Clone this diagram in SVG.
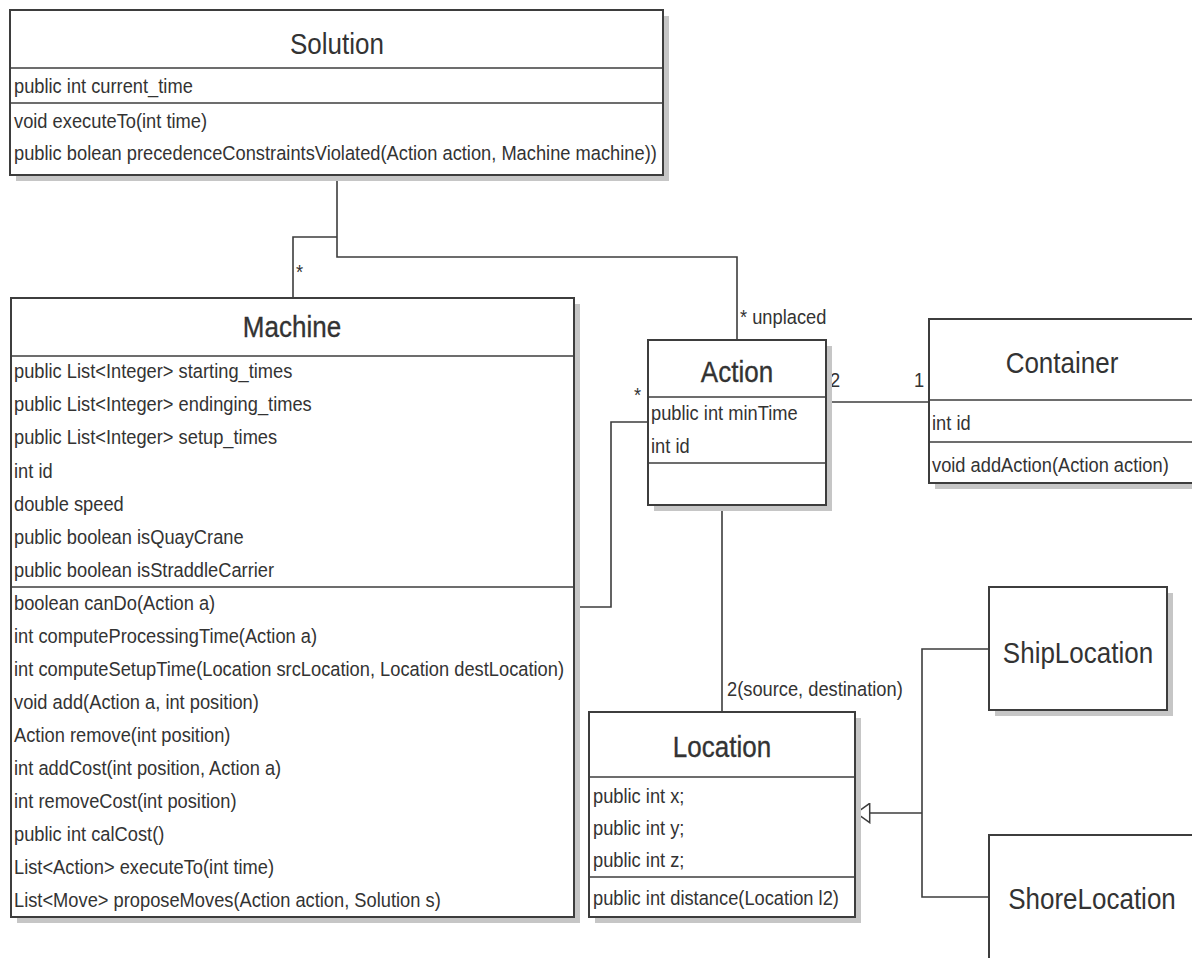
<svg xmlns="http://www.w3.org/2000/svg" width="1192" height="958" viewBox="0 0 1192 958">
  <defs>
    <style>
      .shadow { fill: #c6c6c6; }
      .box { fill: #ffffff; stroke: #3d3d3d; stroke-width: 2; }
      .sep { stroke: #3d3d3d; stroke-width: 1.6; }
      .edge { fill: none; stroke: #3d3d3d; stroke-width: 1.6; }
      text { font-family: "Liberation Sans", Arial, sans-serif; fill: #333333;
             transform-box: fill-box; transform-origin: 0 100%; transform: scaleY(1.12); }
      .title { font-size: 26px; text-anchor: middle; }
      .heavy { stroke: #333333; stroke-width: 0.3; }
      .mem { font-size: 18.3px; }
    </style>
    <marker id="inherit" viewBox="0 0 15 21" refX="14.5" refY="10.5" markerWidth="15" markerHeight="21" markerUnits="userSpaceOnUse" orient="auto">
      <path d="M0.8,0.8 L14.2,10.5 L0.8,20.2 Z" fill="#ffffff" stroke="#3d3d3d" stroke-width="1.5"/>
    </marker>
  </defs>

  <rect width="1192" height="958" fill="#ffffff"/>

  <!-- associations and generalization -->
  <g id="connectors">
    <path class="edge" d="M337,175 V257 H737 V340"/>
    <path class="edge" d="M337,237 H293 V298"/>
    <path class="edge" d="M574,607 H611 V422 H648"/>
    <path class="edge" d="M826,402 H929"/>
    <path class="edge" d="M722,505 V712"/>
    <path class="edge" d="M989,649 H922 V897 H989"/>
    <path class="edge" d="M922,813 H856" marker-end="url(#inherit)"/>
    <text class="mem" x="296" y="279">*</text>
    <text class="mem" x="740" y="324">* unplaced</text>
    <text class="mem" x="634" y="402">*</text>
    <text class="mem" x="830" y="387">2</text>
    <text class="mem" x="914" y="387">1</text>
    <text class="mem" x="727" y="696">2(source, destination)</text>
  </g>

  <g id="Solution">
    <rect class="shadow" x="16" y="16" width="653" height="165"/>
    <rect class="box" x="10" y="10" width="653" height="165"/>
    <line class="sep" x1="10" y1="68" x2="663" y2="68"/>
    <line class="sep" x1="10" y1="103" x2="663" y2="103"/>
    <text class="title" x="337" y="55">Solution</text>
    <text class="mem" x="14" y="94">public int current_time</text>
    <text class="mem" x="14" y="128">void executeTo(int time)</text>
    <text class="mem" x="14" y="160">public bolean precedenceConstraintsViolated(Action action, Machine machine))</text>
  </g>

  <g id="Machine">
    <rect class="shadow" x="17" y="304" width="563" height="619"/>
    <rect class="box" x="11" y="298" width="563" height="619"/>
    <line class="sep" x1="11" y1="356" x2="574" y2="356"/>
    <line class="sep" x1="11" y1="587" x2="574" y2="587"/>
    <text class="title heavy" x="292" y="338">Machine</text>
    <text class="mem" x="14" y="379">public List&lt;Integer&gt; starting_times</text>
    <text class="mem" x="14" y="412">public List&lt;Integer&gt; endinging_times</text>
    <text class="mem" x="14" y="445">public List&lt;Integer&gt; setup_times</text>
    <text class="mem" x="14" y="478">int id</text>
    <text class="mem" x="14" y="511">double speed</text>
    <text class="mem" x="14" y="544">public boolean isQuayCrane</text>
    <text class="mem" x="14" y="577">public boolean isStraddleCarrier</text>
    <text class="mem" x="14" y="610">boolean canDo(Action a)</text>
    <text class="mem" x="14" y="643">int computeProcessingTime(Action a)</text>
    <text class="mem" x="14" y="676">int computeSetupTime(Location srcLocation, Location destLocation)</text>
    <text class="mem" x="14" y="709">void add(Action a, int position)</text>
    <text class="mem" x="14" y="742">Action remove(int position)</text>
    <text class="mem" x="14" y="775">int addCost(int position, Action a)</text>
    <text class="mem" x="14" y="808">int removeCost(int position)</text>
    <text class="mem" x="14" y="841">public int calCost()</text>
    <text class="mem" x="14" y="874">List&lt;Action&gt; executeTo(int time)</text>
    <text class="mem" x="14" y="907">List&lt;Move&gt; proposeMoves(Action action, Solution s)</text>
  </g>

  <g id="Action">
    <rect class="shadow" x="654" y="346" width="178" height="165"/>
    <rect class="box" x="648" y="340" width="178" height="165"/>
    <line class="sep" x1="648" y1="397" x2="826" y2="397"/>
    <line class="sep" x1="648" y1="463" x2="826" y2="463"/>
    <text class="title heavy" x="737" y="383">Action</text>
    <text class="mem" x="651" y="420">public int minTime</text>
    <text class="mem" x="651" y="453">int id</text>
  </g>

  <g id="Container">
    <rect class="shadow" x="935" y="325" width="268" height="164"/>
    <rect class="box" x="929" y="319" width="268" height="164"/>
    <line class="sep" x1="929" y1="400" x2="1197" y2="400"/>
    <line class="sep" x1="929" y1="442" x2="1197" y2="442"/>
    <text class="title" x="1062" y="374">Container</text>
    <text class="mem" x="932" y="430">int id</text>
    <text class="mem" x="932" y="472">void addAction(Action action)</text>
  </g>

  <g id="Location">
    <rect class="shadow" x="595" y="718" width="266" height="205"/>
    <rect class="box" x="589" y="712" width="266" height="205"/>
    <line class="sep" x1="589" y1="777" x2="855" y2="777"/>
    <line class="sep" x1="589" y1="877" x2="855" y2="877"/>
    <text class="title heavy" x="722" y="758">Location</text>
    <text class="mem" x="593" y="803">public int x;</text>
    <text class="mem" x="593" y="835">public int y;</text>
    <text class="mem" x="593" y="867">public int z;</text>
    <text class="mem" x="593" y="905">public int distance(Location l2)</text>
  </g>

  <g id="ShipLocation">
    <rect class="shadow" x="995" y="593" width="178" height="123"/>
    <rect class="box" x="989" y="587" width="178" height="123"/>
    <text class="title" x="1078" y="664">ShipLocation</text>
  </g>

  <g id="ShoreLocation">
    <rect class="shadow" x="995" y="841" width="208" height="125"/>
    <rect class="box" x="989" y="835" width="208" height="125"/>
    <text class="title" x="1092" y="910">ShoreLocation</text>
  </g>
</svg>
